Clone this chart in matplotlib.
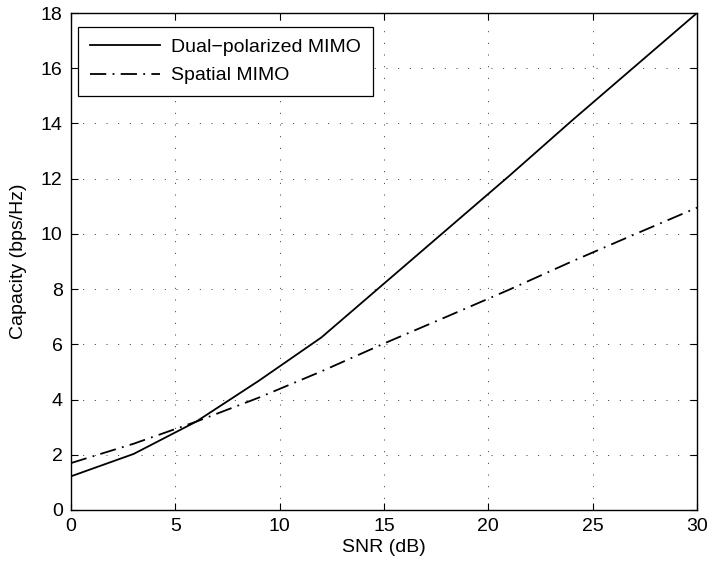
import numpy as np
import matplotlib
matplotlib.use("Agg")
import matplotlib.pyplot as plt

plt.rcParams['font.family'] = ['Liberation Sans', 'DejaVu Sans']

snr = [0, 3, 6, 9, 12, 15, 18, 21, 24, 27, 30]
dual = [1.22, 2.03, 3.2, 4.68, 6.25, 8.2, 10.15, 12.1, 14.1, 16.05, 18.0]
spatial = [1.7, 2.4, 3.2, 4.07, 5.02, 6.03, 7.0, 7.98, 9.0, 9.98, 10.95]

fs = 14

fig = plt.figure(figsize=(7.09, 5.65), dpi=100)
ax = fig.add_axes([71/709, 1 - 510/565, 626/709, 497/565])

ax.plot(snr, dual, 'k-', lw=1.3, label='Dual\u2212polarized MIMO')
ax.plot(snr, spatial, color='k', lw=1.3, linestyle=(0, (9, 3.5, 1, 3.5)),
        label='Spatial MIMO')

ax.set_xlim(0, 30)
ax.set_ylim(0, 18)
ax.set_xticks(np.arange(0, 31, 5))
ax.set_yticks(np.arange(0, 19, 2))
ax.grid(True, linestyle=(0, (1, 11)), color='k', linewidth=0.7, alpha=0.8)
ax.tick_params(direction='in', top=True, right=True, labelsize=fs, length=5, pad=6)
for s in ax.spines.values():
    s.set_linewidth(1.0)

ax.set_xlabel('SNR (dB)', fontsize=fs, labelpad=3)
ax.set_ylabel('Capacity (bps/Hz)', fontsize=fs, labelpad=10)

leg = ax.legend(loc='upper left', bbox_to_anchor=(0.011, 0.972), fontsize=fs,
                fancybox=False, framealpha=1, edgecolor='k', borderaxespad=0,
                handlelength=3.6, handletextpad=0.6, borderpad=0.6,
                labelspacing=0.55)
leg.get_frame().set_linewidth(0.9)

fig.savefig('out.png', dpi=100)
